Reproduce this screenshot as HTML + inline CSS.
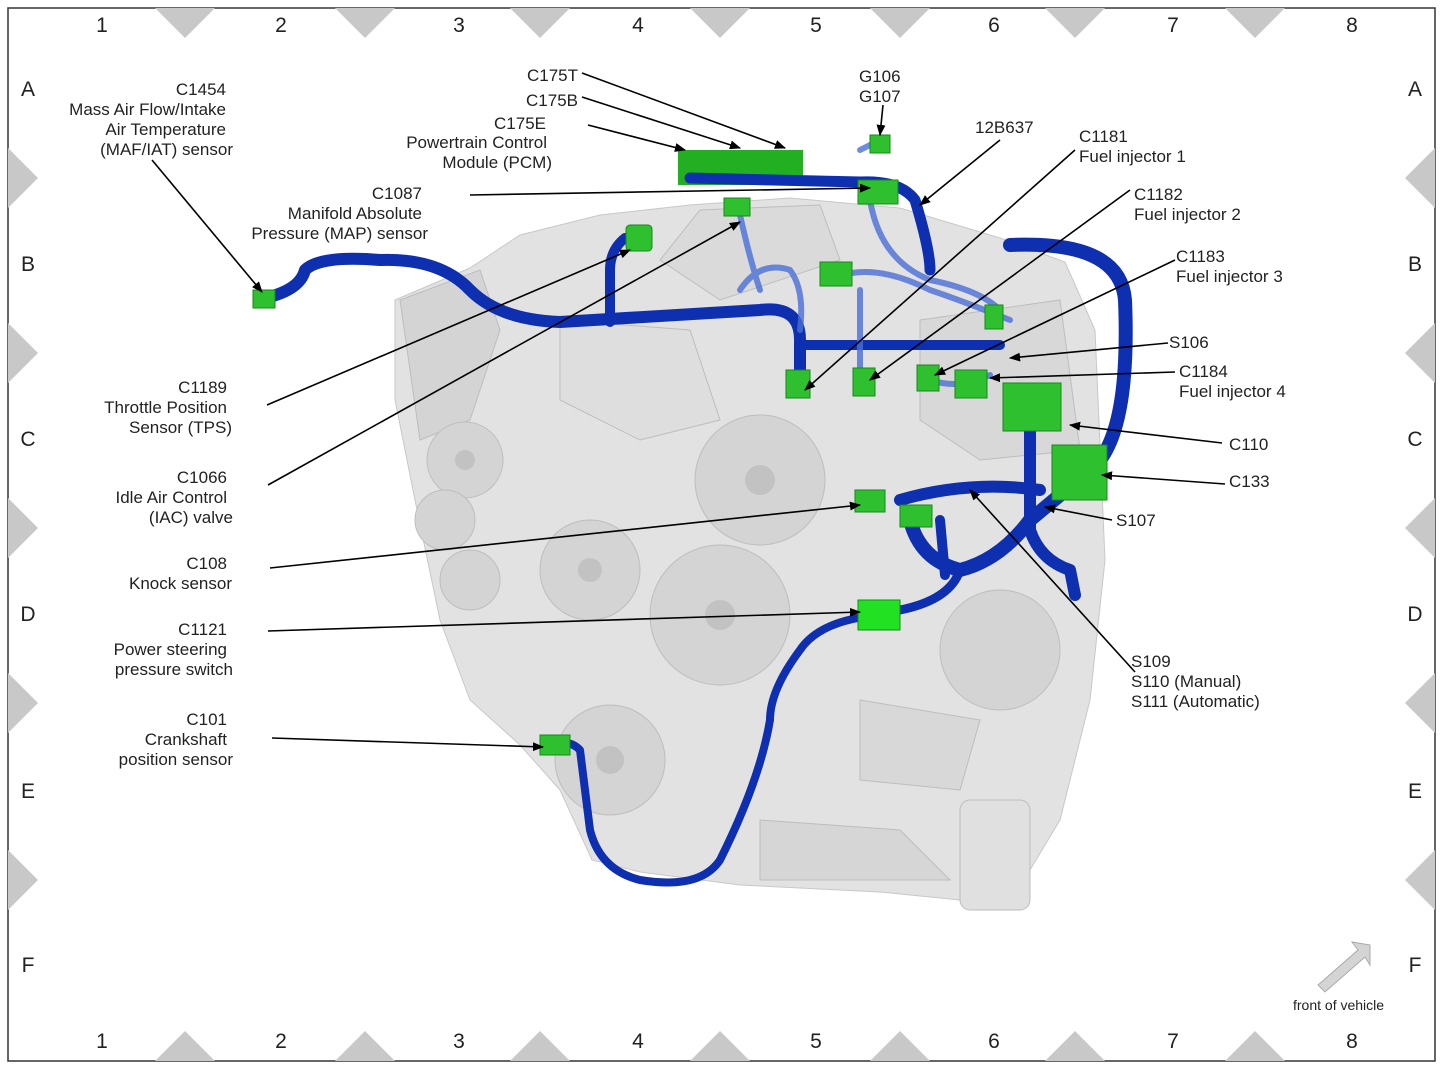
<!DOCTYPE html>
<html><head><meta charset="utf-8"><style>
html,body{margin:0;padding:0;background:#fff;}
svg{display:block;}
text{font-family:"Liberation Sans",sans-serif;fill:#222;}
</style></head><body>
<svg width="1443" height="1074" viewBox="0 0 1443 1074" xmlns="http://www.w3.org/2000/svg">
<defs><marker id="a" viewBox="0 0 10 10" refX="9" refY="5" markerWidth="7" markerHeight="7" orient="auto"><path d="M0,1 L10,5 L0,9 Z" fill="#000"/></marker></defs>
<rect x="0" y="0" width="1443" height="1074" fill="#fff"/>
<rect x="8" y="8" width="1427" height="1053" fill="none" stroke="#333" stroke-width="1.5"/>
<g fill="#c8c8c8">
<polygon points="155,8 215,8 185,38"/><polygon points="335,8 395,8 365,38"/><polygon points="510,8 570,8 540,38"/><polygon points="690,8 750,8 720,38"/><polygon points="870,8 930,8 900,38"/><polygon points="1045,8 1105,8 1075,38"/><polygon points="1225,8 1285,8 1255,38"/>
<polygon points="155,1061 215,1061 185,1031"/><polygon points="335,1061 395,1061 365,1031"/><polygon points="510,1061 570,1061 540,1031"/><polygon points="690,1061 750,1061 720,1031"/><polygon points="870,1061 930,1061 900,1031"/><polygon points="1045,1061 1105,1061 1075,1031"/><polygon points="1225,1061 1285,1061 1255,1031"/>
<polygon points="8,148 8,208 38,178"/><polygon points="8,323 8,383 38,353"/><polygon points="8,498 8,558 38,528"/><polygon points="8,673 8,733 38,703"/><polygon points="8,850 8,910 38,880"/>
<polygon points="1435,148 1435,208 1405,178"/><polygon points="1435,323 1435,383 1405,353"/><polygon points="1435,498 1435,558 1405,528"/><polygon points="1435,673 1435,733 1405,703"/><polygon points="1435,850 1435,910 1405,880"/>
</g>
<g font-size="21" text-anchor="middle">
<text x="102" y="32">1</text><text x="281" y="32">2</text><text x="459" y="32">3</text><text x="638" y="32">4</text><text x="816" y="32">5</text><text x="994" y="32">6</text><text x="1173" y="32">7</text><text x="1352" y="32">8</text>
<text x="102" y="1048">1</text><text x="281" y="1048">2</text><text x="459" y="1048">3</text><text x="638" y="1048">4</text><text x="816" y="1048">5</text><text x="994" y="1048">6</text><text x="1173" y="1048">7</text><text x="1352" y="1048">8</text>
<text x="28" y="96">A</text><text x="28" y="271">B</text><text x="28" y="446">C</text><text x="28" y="621">D</text><text x="28" y="798">E</text><text x="28" y="972">F</text>
<text x="1415" y="96">A</text><text x="1415" y="271">B</text><text x="1415" y="446">C</text><text x="1415" y="621">D</text><text x="1415" y="798">E</text><text x="1415" y="972">F</text>
</g>
<!-- engine -->
<path d="M395,300 L470,268 L520,235 L600,215 L690,205 L790,198 L900,208 L1000,238 L1065,262 L1095,330 L1105,560 L1090,700 L1060,820 L1030,870 L1000,880 L980,910 L960,900 L880,892 L740,885 L640,872 L592,860 L560,790 L520,745 L470,700 L440,620 L415,500 L395,400 Z" fill="#e2e2e2" stroke="#c8c8c8"/>
<g fill="#d4d4d4" stroke="#bdbdbd">
<path d="M400,300 L480,270 L500,330 L470,420 L420,440 Z"/>
<path d="M700,210 L820,205 L840,260 L720,300 L660,260 Z" fill="#dadada"/>
<circle cx="760" cy="480" r="65"/><circle cx="720" cy="615" r="70"/><circle cx="590" cy="570" r="50"/><circle cx="610" cy="760" r="55"/><circle cx="465" cy="460" r="38"/><circle cx="445" cy="520" r="30"/><circle cx="470" cy="580" r="30"/><circle cx="1000" cy="650" r="60"/>
<rect x="960" y="800" width="70" height="110" rx="10" fill="#e0e0e0"/>
<path d="M560,320 L690,330 L720,420 L640,440 L560,400 Z" fill="#dedede"/>
<path d="M920,320 L1060,300 L1080,450 L980,460 L920,420 Z" fill="#d8d8d8"/>
<path d="M760,820 L900,830 L950,880 L760,880 Z" fill="#d6d6d6"/>
<path d="M860,700 L980,720 L960,790 L860,780 Z" fill="#d8d8d8"/>
</g>
<g fill="#c2c2c2"><circle cx="760" cy="480" r="15"/><circle cx="720" cy="615" r="15"/><circle cx="590" cy="570" r="12"/><circle cx="610" cy="760" r="14"/><circle cx="465" cy="460" r="10"/></g>
<!-- PCM -->
<rect x="678" y="150" width="125" height="35" fill="#22b022"/>
<!-- harness -->
<g fill="none" stroke="#0d2fb0" stroke-linecap="round" stroke-linejoin="round">
<path d="M265,298 Q300,290 305,270 Q320,255 380,260 Q440,258 470,290 Q500,320 560,322 L760,310 Q800,305 800,340 L800,370" stroke-width="12"/>
<path d="M625,238 Q610,250 610,270 L610,322" stroke-width="10"/>
<path d="M690,178 L860,182 Q900,180 915,200 Q930,250 930,270" stroke-width="11"/>
<path d="M800,345 L1000,345" stroke-width="10"/>
<path d="M1010,245 Q1120,240 1125,300 Q1130,420 1100,460" stroke-width="14"/>
<path d="M1030,420 L1030,530 Q1040,560 1070,570 L1075,595" stroke-width="12"/>
<path d="M910,520 Q920,560 960,570 Q1000,560 1030,520 L1060,495" stroke-width="14"/>
<path d="M900,500 Q970,480 1040,490" stroke-width="12"/>
<path d="M940,520 L945,575" stroke-width="10"/>
<path d="M900,610 Q950,600 960,570" stroke-width="9"/>
<path d="M880,615 Q820,620 800,650 Q770,690 770,720 Q760,780 720,860 Q700,890 640,880 Q600,870 590,830 L580,750 Q570,740 560,745" stroke-width="8"/>
</g>
<g fill="none" stroke="#4a6fd8" stroke-width="6" opacity="0.8" stroke-linecap="round">
<path d="M740,215 Q750,260 760,290"/><path d="M740,290 Q760,260 790,270 Q805,290 800,330"/>
<path d="M870,200 Q880,260 930,280 Q980,290 1000,310"/><path d="M830,280 Q870,260 930,290 Q960,300 1010,320"/>
<path d="M860,290 L860,370"/><path d="M930,380 Q960,390 990,375"/><path d="M860,150 Q880,140 880,140"/>
</g>
<!-- green connectors -->
<g fill="#2fc02f" stroke="#168a16" stroke-width="1">
<rect x="253" y="290" width="22" height="18"/><rect x="626" y="225" width="26" height="26" rx="4"/><rect x="724" y="198" width="26" height="18"/>
<rect x="858" y="180" width="40" height="24"/><rect x="820" y="262" width="32" height="24"/><rect x="870" y="135" width="20" height="18"/>
<rect x="786" y="370" width="24" height="28"/><rect x="853" y="368" width="22" height="28"/><rect x="917" y="365" width="22" height="26"/><rect x="955" y="370" width="32" height="28"/>
<rect x="985" y="305" width="18" height="24"/>
<rect x="1003" y="383" width="58" height="48"/><rect x="1052" y="445" width="55" height="55"/>
<rect x="855" y="490" width="30" height="22"/><rect x="900" y="505" width="32" height="22"/>
<rect x="858" y="600" width="42" height="30" fill="#22e022"/><rect x="540" y="735" width="30" height="20"/>
</g>
<!-- leader lines -->
<g stroke="#000" stroke-width="1.6" fill="none" marker-end="url(#a)">
<line x1="152" y1="160" x2="262" y2="292"/>
<line x1="470" y1="195" x2="870" y2="188"/>
<line x1="582" y1="73" x2="785" y2="148"/><line x1="582" y1="97" x2="740" y2="148"/><line x1="588" y1="125" x2="685" y2="150"/>
<line x1="883" y1="105" x2="880" y2="135"/><line x1="1000" y1="140" x2="920" y2="205"/>
<line x1="1075" y1="150" x2="805" y2="390"/><line x1="1130" y1="190" x2="870" y2="380"/><line x1="1175" y1="260" x2="935" y2="375"/>
<line x1="1168" y1="343" x2="1010" y2="358"/><line x1="1175" y1="372" x2="990" y2="378"/>
<line x1="1222" y1="443" x2="1070" y2="425"/><line x1="1225" y1="484" x2="1102" y2="475"/><line x1="1112" y1="520" x2="1045" y2="507"/>
<line x1="1135" y1="672" x2="970" y2="490"/>
<line x1="267" y1="405" x2="630" y2="250"/><line x1="268" y1="485" x2="740" y2="222"/>
<line x1="270" y1="568" x2="860" y2="505"/><line x1="268" y1="631" x2="860" y2="612"/><line x1="272" y1="738" x2="543" y2="747"/>
</g>
<!-- labels -->
<g font-size="17">
<g text-anchor="end">
<text x="226" y="95">C1454</text><text x="226" y="115">Mass Air Flow/Intake</text><text x="226" y="135">Air Temperature</text><text x="233" y="155">(MAF/IAT) sensor</text>
<text x="578" y="81">C175T</text><text x="578" y="106">C175B</text><text x="546" y="129">C175E</text><text x="547" y="148">Powertrain Control</text><text x="552" y="168">Module (PCM)</text>
<text x="422" y="199">C1087</text><text x="422" y="219">Manifold Absolute</text><text x="428" y="239">Pressure (MAP) sensor</text>
<text x="227" y="393">C1189</text><text x="227" y="413">Throttle Position</text><text x="232" y="433">Sensor (TPS)</text>
<text x="227" y="483">C1066</text><text x="227" y="503">Idle Air Control</text><text x="233" y="523">(IAC) valve</text>
<text x="227" y="569">C108</text><text x="232" y="589">Knock sensor</text>
<text x="227" y="635">C1121</text><text x="227" y="655">Power steering</text><text x="233" y="675">pressure switch</text>
<text x="227" y="725">C101</text><text x="227" y="745">Crankshaft</text><text x="233" y="765">position sensor</text>
</g>
<text x="859" y="82">G106</text><text x="859" y="102">G107</text><text x="975" y="133">12B637</text>
<text x="1079" y="142">C1181</text><text x="1079" y="162">Fuel injector 1</text>
<text x="1134" y="200">C1182</text><text x="1134" y="220">Fuel injector 2</text>
<text x="1176" y="262">C1183</text><text x="1176" y="282">Fuel injector 3</text>
<text x="1169" y="348">S106</text><text x="1179" y="377">C1184</text><text x="1179" y="397">Fuel injector 4</text>
<text x="1229" y="450">C110</text><text x="1229" y="487">C133</text><text x="1116" y="526">S107</text>
<text x="1131" y="667">S109</text><text x="1131" y="687">S110 (Manual)</text><text x="1131" y="707">S111 (Automatic)</text>
<text x="1293" y="1010" font-size="14">front of vehicle</text>
</g>
<polygon points="1370,945 1352,942 1358,950 1318,985 1325,992 1365,957 1370,965" fill="#d4d4d4" stroke="#aaa"/>
</svg>
</body></html>
